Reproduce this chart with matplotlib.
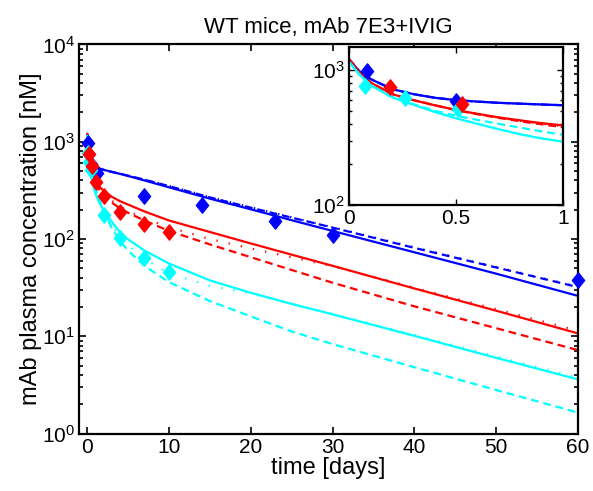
import numpy as np
import matplotlib
matplotlib.use("Agg")
import matplotlib.pyplot as plt
from matplotlib.path import Path
from matplotlib.ticker import LogLocator, FixedLocator, NullFormatter, FuncFormatter

plt.rcParams['font.family'] = ['Liberation Sans', 'DejaVu Sans']
plt.rcParams['mathtext.fontset'] = 'custom'
plt.rcParams['mathtext.rm'] = 'Liberation Sans'
plt.rcParams['mathtext.default'] = 'regular'

# ---------------- data ----------------
t_curve = [0, 0.05, 0.1, 0.2, 0.3, 0.4, 0.5, 0.6, 0.7, 0.8, 0.9, 1,
           1.5, 2, 3, 4, 5, 7, 10, 15, 20, 25, 30, 40, 50, 60]

blue_solid = [1200, 970, 860, 725, 665, 625, 600, 585, 573, 565, 557, 550,
              530, 515, 490, 468, 445, 400, 340, 260, 202, 156, 121, 73, 44, 26]
blue_dashed = [1200, 970, 860, 725, 665, 625, 600, 585, 573, 565, 557, 550,
               530, 515, 490, 469, 448, 408, 350, 268, 210, 166, 131, 81, 51, 32]
blue_dotted = [1200, 970, 860, 725, 665, 625, 600, 585, 573, 565, 557, 550,
               530, 515, 491, 470, 449, 409, 352, 270, 212, 167, 132, 82, 51.5, 32.3]

red_solid = [1200, 950, 810, 665, 600, 550, 507, 475, 447, 425, 405, 390,
             345, 315, 272, 245, 226, 192, 155, 118, 90, 69, 53, 31, 18.3, 10.7]
red_dashed = [1200, 950, 810, 665, 600, 550, 505, 472, 443, 418, 397, 378,
              320, 285, 237, 207, 186, 155, 121, 88, 65, 48, 35.5, 20.3, 12.1, 7.2]
red_dotted = [1200, 950, 810, 665, 600, 550, 506, 473, 445, 421, 401, 383,
              330, 297, 248, 216, 194, 163, 132, 100, 80, 65, 52.5, 31.5, 19, 11.4]

cyan_solid = [1150, 920, 775, 630, 555, 490, 440, 400, 365, 335, 312, 295,
              235, 200, 150, 118, 99, 76, 56, 37.5, 28, 21.5, 16.8, 10.1, 6.0, 3.6]
cyan_dashed = [1150, 920, 775, 635, 560, 500, 460, 428, 400, 375, 352, 332,
               255, 195, 130, 96, 76, 53, 36, 23, 16, 11.2, 8.3, 4.8, 2.8, 1.64]
cyan_dotted = [1150, 920, 775, 630, 555, 492, 442, 402, 367, 337, 314, 296,
               235, 195, 140, 106, 86, 63, 44, 33, 27.5, 21.5, 17, 10.3, 6.2, 3.75]

blue_t = [0.083, 0.5, 1.2, 7, 14, 23, 30, 60]
blue_obs = [980, 590, 475, 280, 222, 152, 110, 38]
red_t = [0.19, 0.53, 1.05, 2, 4, 7, 10]
red_obs = [750, 560, 388, 278, 188, 141, 119]
cyan_t = [0.075, 0.26, 0.51, 2, 4, 7, 10]
cyan_obs = [765, 624, 517, 177, 102, 64, 46]

title_text = "WT mice, mAb 7E3+IVIG"
xlabel_text = "time [days]"
ylabel_text = "mAb plasma concentration [nM]"
main_xticks = [0, 10, 20, 30, 40, 50, 60]
inset_xticks = [0, 0.5, 1]
inset_xticklabels = ["0", "0.5", "1"]

# ---------------- style ----------------
BLUE = (0, 0, 1)
RED = (1, 0, 0)
CYAN = (0, 1, 1)
diamond = Path([(0, 1), (0.8, 0), (0, -1), (-0.8, 0), (0, 1)],
               [Path.MOVETO, Path.LINETO, Path.LINETO, Path.LINETO, Path.CLOSEPOLY])
DASH = (0, (3.5, 2.2))
DOT = (0, (0.6, 5))
LW = 1.6
FS_TICK = 15
FS_LABEL = 17


def pow_fmt(v, pos):
    e = int(round(np.log10(v)))
    return r'$10^{%d}$' % e


def draw(ax, ms, clip):
    for col, s, d, o in [(BLUE, blue_solid, blue_dashed, blue_dotted),
                         (RED, red_solid, red_dashed, red_dotted),
                         (CYAN, cyan_solid, cyan_dashed, cyan_dotted)]:
        ax.plot(t_curve, s, color=col, lw=LW, ls='-')
        ax.plot(t_curve, d, color=col, lw=LW, ls=DASH)
        ax.plot(t_curve, o, color=col, lw=LW, ls=DOT)
    for col, tt, yy in [(BLUE, blue_t, blue_obs), (CYAN, cyan_t, cyan_obs),
                        (RED, red_t, red_obs)]:
        ax.plot(tt, yy, ls='none', marker=diamond, ms=ms, color=col,
                mec=col, zorder=5, clip_on=clip)


fig = plt.figure(figsize=(5.93, 4.91), dpi=100)
ax = fig.add_axes([79 / 593, 1 - 433.5 / 491, (578 - 79) / 593, (433.5 - 44.5) / 491])
draw(ax, 11, False)
ax.set_yscale('log')
ax.set_xlim(-1, 60)
ax.set_ylim(1, 1e4)
ax.set_xticks(main_xticks)
ax.yaxis.set_major_locator(LogLocator(base=10, numticks=10))
ax.yaxis.set_minor_locator(LogLocator(base=10, subs=np.arange(2, 10), numticks=10))
ax.yaxis.set_major_formatter(FuncFormatter(pow_fmt))
ax.yaxis.set_minor_formatter(NullFormatter())
ax.tick_params(which='both', direction='in', top=True, right=True, labelsize=FS_TICK,
               width=1.2, pad=3)
ax.tick_params(which='major', length=5)
ax.tick_params(which='minor', length=3)
for sp in ax.spines.values():
    sp.set_linewidth(1.6)
ax.set_title(title_text, fontsize=16, pad=8)
ax.set_xlabel(xlabel_text, fontsize=FS_LABEL, labelpad=0)
ax.set_ylabel(ylabel_text, fontsize=FS_LABEL, labelpad=0)

ins = fig.add_axes([349.3 / 593, 1 - 205 / 491, (562.7 - 349.3) / 593, (205 - 46.5) / 491])
ins.set_facecolor('white')
draw(ins, 11, True)
ins.set_yscale('log')
ins.set_xlim(0, 1)
ins.set_ylim(100, 1500)
ins.set_xticks(inset_xticks)
ins.set_xticklabels(inset_xticklabels)
ins.yaxis.set_major_locator(FixedLocator([100, 1000]))
ins.yaxis.set_minor_locator(LogLocator(base=10, subs=np.arange(2, 10), numticks=10))
ins.yaxis.set_major_formatter(FuncFormatter(pow_fmt))
ins.yaxis.set_minor_formatter(NullFormatter())
ins.tick_params(which='both', direction='in', top=True, right=True, labelsize=FS_TICK,
                width=1.0, pad=3)
ins.tick_params(which='major', length=4)
ins.tick_params(which='minor', length=2)
for sp in ins.spines.values():
    sp.set_linewidth(1.6)

fig.savefig('out.png', dpi=100)
